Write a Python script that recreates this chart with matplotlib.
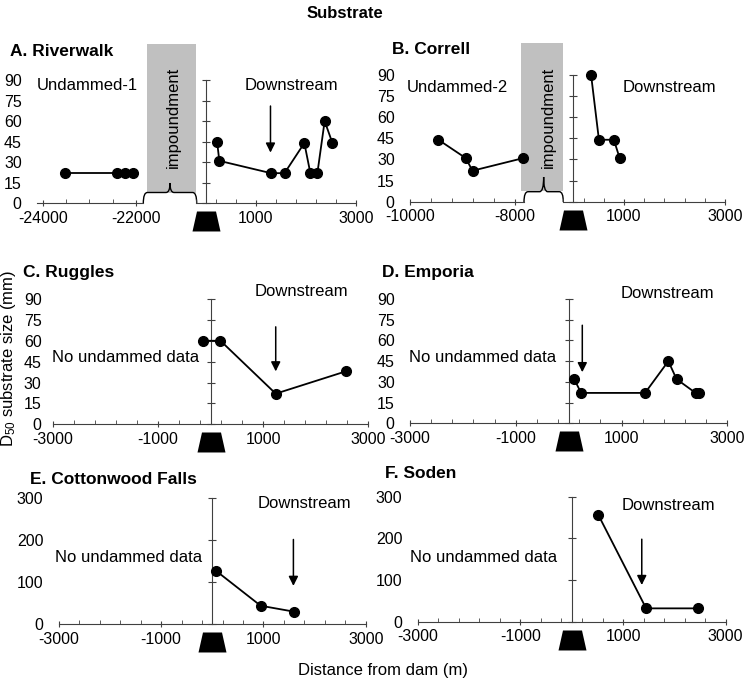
import matplotlib
matplotlib.use("Agg")
import matplotlib.pyplot as plt
import numpy as np
from matplotlib.path import Path
from matplotlib.patches import Rectangle, PathPatch

plt.rcParams['font.family'] = ['Liberation Sans', 'DejaVu Sans']
plt.rcParams['mathtext.fontset'] = 'custom'
plt.rcParams['mathtext.rm'] = 'Liberation Sans'
plt.rcParams['mathtext.it'] = 'Liberation Sans:italic'
plt.rcParams['axes.unicode_minus'] = False

W, H = 749, 684
FS = 12
TFS = 11.5
AX = '#404040'

# D50 (mm) vs distance from dam (m)
rw_up_x = [-23530, -22400, -22240, -22070]
rw_up_y = [22, 22, 22, 22]
rw_dn_x = [230, 275, 1305, 1575, 1970, 2090, 2230, 2375, 2530]
rw_dn_y = [45, 31, 22, 22, 44, 22, 22, 60, 44]
co_up_x = [-9460, -8940, -8810, -7840]
co_up_y = [44, 31, 22, 31]
co_dn_x = [350, 505, 800, 915]
co_dn_y = [90, 44, 44, 31]
ru_x = [-140, 190, 1240, 2570]
ru_y = [60, 60, 22, 38]
em_x = [105, 235, 1445, 1885, 2040, 2400, 2465]
em_y = [32, 22, 22, 45, 32, 22, 22]
cf_x = [70, 945, 1595]
cf_y = [127, 44, 30]
so_x = [520, 1450, 2465]
so_y = [256, 32, 32]

# arrows: x, y start, y end
rw_arrow = (1295, 71, 37)
ru_arrow = (1240, 70, 38)
em_arrow = (258, 71, 37)
cf_arrow = (1585, 201, 91)
so_arrow = (1365, 198, 88)

yt_small = [0, 15, 30, 45, 60, 75, 90]
yt_big = [0, 100, 200, 300]

fig = plt.figure(figsize=(W / 100, H / 100), dpi=100)
bg = fig.add_axes([0, 0, 1, 1])
bg.set_xlim(0, W)
bg.set_ylim(H, 0)
bg.axis('off')


def add_ax(x0, x1, ytop, ybot, xlim, ylim):
    ax = fig.add_axes([x0 / W, 1 - ybot / H, (x1 - x0) / W, (ybot - ytop) / H])
    ax.patch.set_alpha(0)
    for s in ['top', 'right', 'left']:
        ax.spines[s].set_visible(False)
    ax.spines['bottom'].set_color(AX)
    ax.set_xlim(*xlim)
    ax.set_ylim(*ylim)
    ax.set_yticks([])
    return ax


def xticks(ax, major, minor):
    ax.set_xticks(major)
    ax.set_xticks(minor, minor=True)
    ax.tick_params(axis='x', which='major', direction='inout', length=5,
                   color=AX, labelsize=TFS, pad=3)
    ax.tick_params(axis='x', which='minor', direction='in', length=3, color=AX)


def ylabels(ax, yt, pad=11):
    ax.set_yticks(yt)
    ax.tick_params(axis='y', length=0, pad=pad, labelsize=TFS)


def zero_axis(ax, yt):
    x0, x1 = ax.get_xlim()
    sec = ax.secondary_yaxis((0 - x0) / (x1 - x0))
    sec.set_ticks(yt)
    sec.tick_params(direction='inout', length=6, color=AX,
                    labelleft=False, labelright=False)
    for s in sec.spines.values():
        s.set_color(AX)


def series(ax, x, y):
    ax.plot(x, y, '-o', color='black', lw=1.3, ms=7, clip_on=False, zorder=3)


def arrow(ax, a):
    ax.annotate('', xy=(a[0], a[2]), xytext=(a[0], a[1]),
                arrowprops=dict(arrowstyle='-|>', color='black', lw=1.1,
                                mutation_scale=14, shrinkA=0, shrinkB=0))


dam = Path([(-9.5, -8), (9.5, -8), (14, -28), (-14, -28), (-9.5, -8)], closed=True)


def dam_icon(ax):
    ax.plot([0], [0], marker=dam, ms=40.3, color='black', mew=0,
            clip_on=False, zorder=4)


def brace(x0, x1, yb, yt, yp):
    xm = (x0 + x1) / 2
    r = 4
    verts = [(x0, yb), (x0, yt), (x0 + r, yt), (xm - r, yt), (xm, yt), (xm, yp),
             (xm, yt), (xm + r, yt), (x1 - r, yt), (x1, yt), (x1, yb)]
    codes = [Path.MOVETO, Path.CURVE3, Path.CURVE3, Path.LINETO, Path.CURVE3,
             Path.CURVE3, Path.CURVE3, Path.CURVE3, Path.LINETO, Path.CURVE3,
             Path.CURVE3]
    bg.add_patch(PathPatch(Path(verts, codes), fc='none', ec='black', lw=1))


# ---- A. Riverwalk
bg.add_patch(Rectangle((147, 44.3), 48.5, 148.4, color='#c0c0c0', lw=0))
brace(143.3, 196.7, 203.5, 192.5, 183)
bg.text(173, 117, 'impoundment', rotation=90, ha='center', va='center', fontsize=FS)
axa1 = add_ax(37, 143, 80, 203.3, (-24129, -21849), (0, 90))
xticks(axa1, [-24000, -22000], np.arange(-24000, -21850, 500))
ylabels(axa1, yt_small, pad=11)
series(axa1, rw_up_x, rw_up_y)
axa2 = add_ax(195.5, 356, 80, 203.3, (0, 3000), (0, 90))
xticks(axa2, [1000, 3000], np.arange(-200, 3001, 400))
zero_axis(axa2, yt_small)
series(axa2, rw_dn_x, rw_dn_y)
arrow(axa2, rw_arrow)
dam_icon(axa2)

# ---- B. Correll
bg.add_patch(Rectangle((520.7, 43.3), 42.6, 147.4, color='#c0c0c0', lw=0))
brace(524, 563.3, 202, 191.7, 177)
bg.text(548, 117.5, 'impoundment', rotation=90, ha='center', va='center', fontsize=FS)
axb1 = add_ax(410, 524, 75, 201.7, (-10000, -7830), (0, 90))
xticks(axb1, [-10000, -8000], np.arange(-10000, -7800, 400))
ylabels(axb1, yt_small, pad=11)
series(axb1, co_up_x, co_up_y)
axb2 = add_ax(563.3, 725, 75, 201.7, (-80, 3000), (0, 90))
xticks(axb2, [1000, 3000], np.arange(-200, 3001, 400))
zero_axis(axb2, yt_small)
series(axb2, co_dn_x, co_dn_y)
dam_icon(axb2)

# ---- C-F
full_major = [-3000, -1000, 1000, 3000]
full_minor = np.arange(-3000, 3001, 400)
lower = [
    ((52.7, 368.3, 299, 424.3), yt_small, ru_x, ru_y, ru_arrow, 8),
    ((410, 727.3, 299, 423.3), yt_small, em_x, em_y, em_arrow, 11),
    ((58.8, 365.8, 497.7, 624.3), yt_big, cf_x, cf_y, cf_arrow, 11),
    ((417.7, 725.7, 496.7, 621.7), yt_big, so_x, so_y, so_arrow, 11),
]
for pos, yt, x, y, arr, pad in lower:
    ax = add_ax(*pos, (-3000, 3000), (yt[0], yt[-1]))
    xticks(ax, full_major, full_minor)
    ylabels(ax, yt, pad=pad)
    zero_axis(ax, yt)
    series(ax, x, y)
    arrow(ax, arr)
    dam_icon(ax)

# ---- texts
bg.text(344.5, 13, 'Substrate', ha='center', va='center', fontsize=12, fontweight='bold')
titles = [(10, 51, 'A. Riverwalk'), (392, 50, 'B. Correll'), (23, 272, 'C. Ruggles'),
          (382, 272, 'D. Emporia'), (30, 479, 'E. Cottonwood Falls'), (385, 474, 'F. Soden')]
for tx, ty, t in titles:
    bg.text(tx, ty, t, ha='left', va='center', fontsize=12.5, fontweight='bold')

bg.text(37, 86, 'Undammed-1', ha='left', va='center', fontsize=FS)
bg.text(407, 87, 'Undammed-2', ha='left', va='center', fontsize=FS)
for tx, ty in [(291, 85), (669, 87), (301, 292), (667.5, 293), (304, 504), (668.5, 505)]:
    bg.text(tx, ty, 'Downstream', ha='center', va='center', fontsize=FS)
for tx, ty in [(125.5, 358), (483, 358), (128.5, 558), (483.5, 558)]:
    bg.text(tx, ty, 'No undammed data', ha='center', va='center', fontsize=FS)

bg.text(8.5, 358, 'D$_{50}$ substrate size (mm)', rotation=90, ha='center',
        va='center', fontsize=FS)
bg.text(383, 670, 'Distance from dam (m)', ha='center', va='center', fontsize=FS)

fig.savefig('out.png', dpi=100)
